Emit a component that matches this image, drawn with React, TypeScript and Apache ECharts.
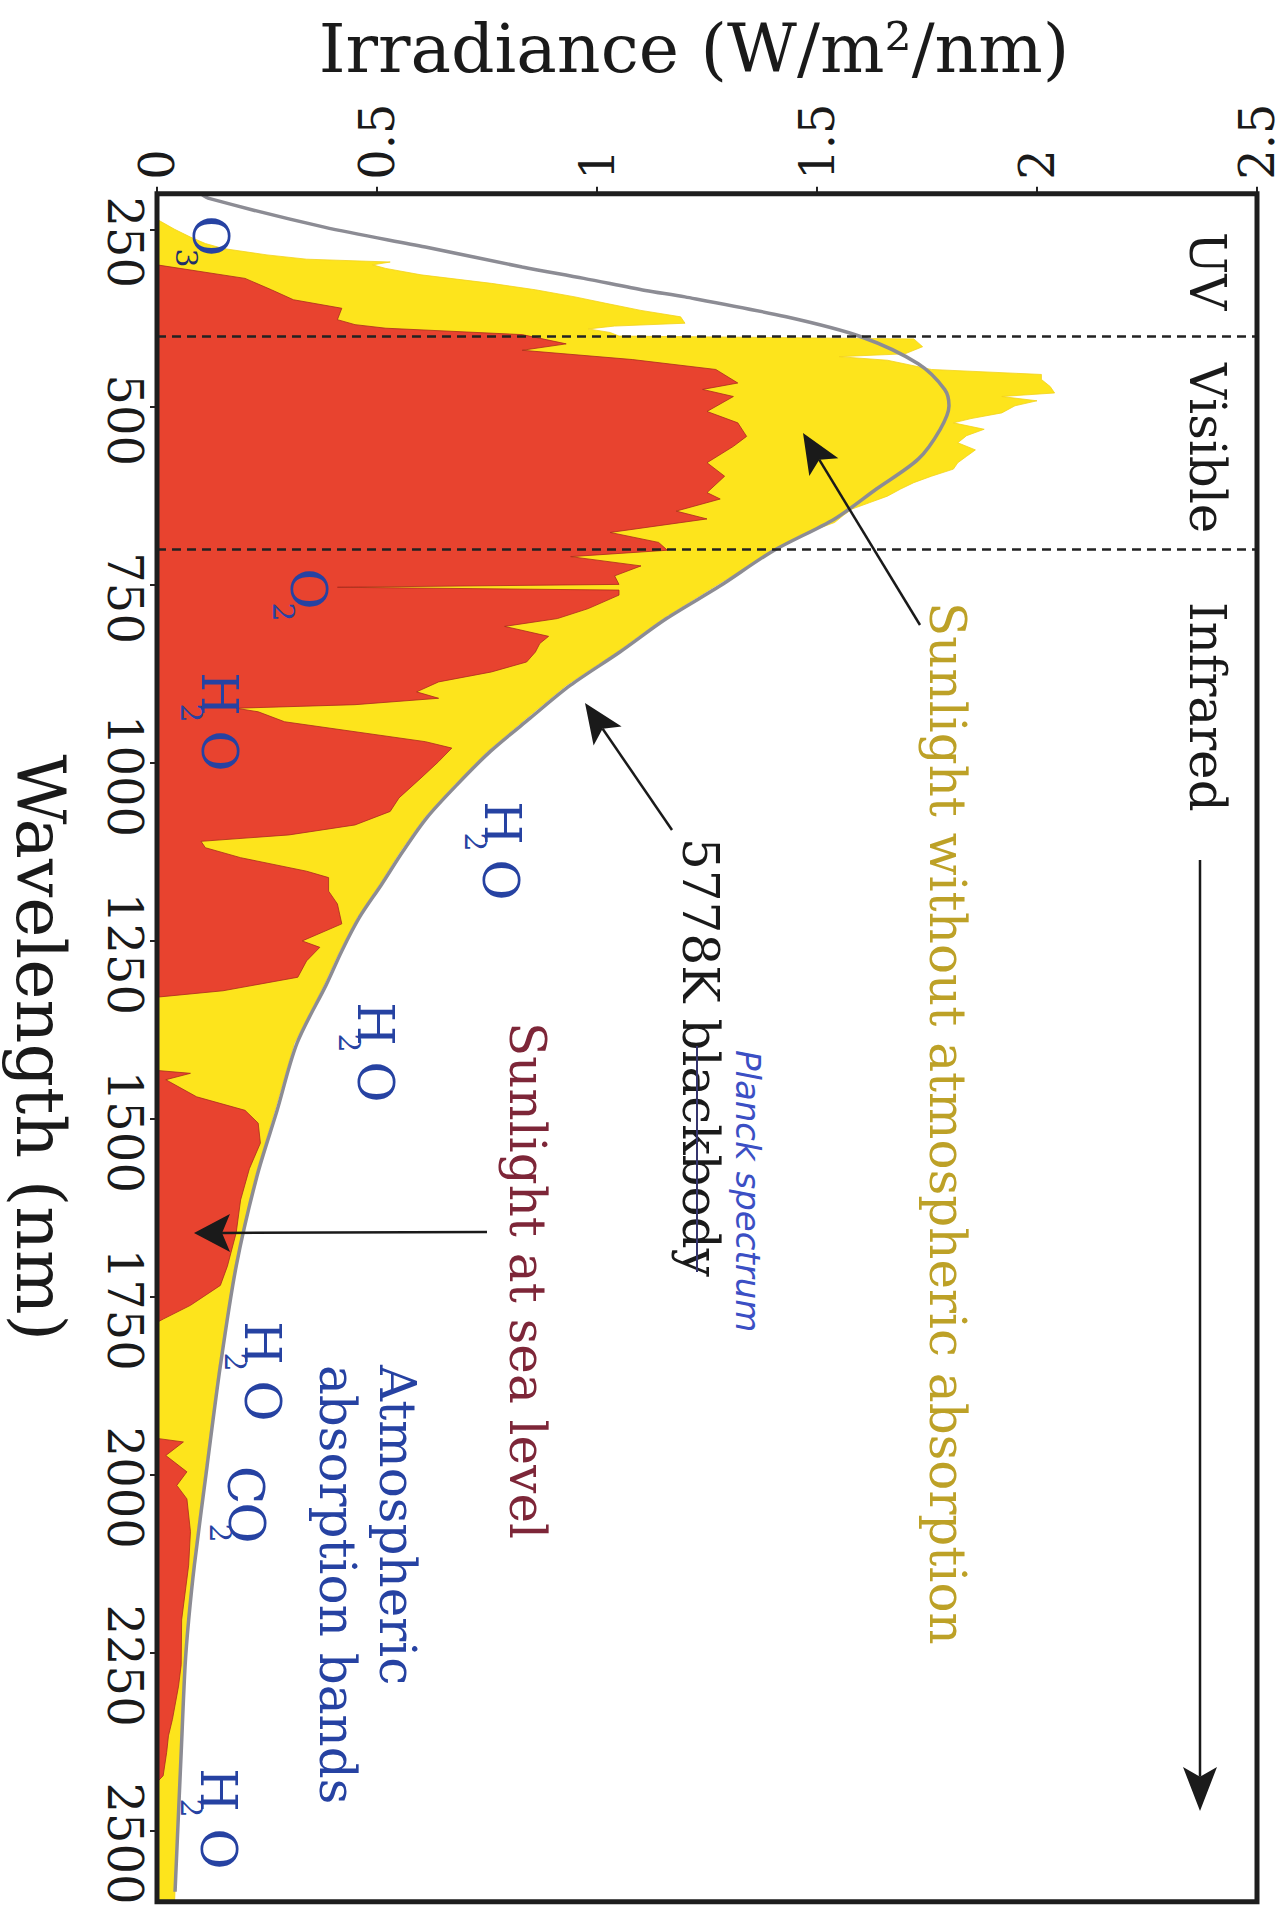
import React, { useEffect, useRef } from "react";
import * as echarts from "echarts";

// ---- Data ----
// [irradiance W/m²/nm, wavelength nm]
const spaceSpectrum: [number, number][] = [
  [0, 236], [0.04, 250], [0.076, 261], [0.11, 270], [0.15, 277], [0.25, 286], [0.34, 292], [0.53, 296],
  [0.49, 300], [0.52, 305], [0.6, 314], [0.68, 320], [0.76, 326], [0.86, 335], [0.95, 345], [1.02, 354],
  [1.1, 364], [1.19, 373], [1.2, 382], [1.04, 386], [0.98, 390], [1.03, 395], [1.05, 400], [1.72, 404],
  [1.74, 415], [1.7, 425], [1.55, 429], [1.66, 434], [1.76, 447], [2.01, 454], [2.01, 461], [2.03, 471],
  [2.04, 480], [1.92, 485], [2.0, 491], [1.95, 498], [1.92, 508], [1.85, 516], [1.81, 522], [1.88, 531],
  [1.84, 540], [1.82, 550], [1.86, 560], [1.84, 569], [1.82, 578], [1.81, 587], [1.76, 597], [1.72, 606],
  [1.69, 615], [1.66, 625], [1.62, 634], [1.58, 643], [1.56, 652], [1.54, 662], [1.5, 671], [1.46, 680],
  [1.44, 690], [1.40, 702], [1.27, 751], [1.15, 797], [1.045, 844], [0.93, 891], [0.84, 937],
  [0.75, 984], [0.675, 1031], [0.607, 1077], [0.553, 1124], [0.505, 1171], [0.455, 1217], [0.415, 1264],
  [0.38, 1311], [0.312, 1394], [0.268, 1488], [0.223, 1581], [0.177, 1707], [0.141, 1847], [0.111, 1987],
  [0.082, 2127], [0.07, 2204], [0.061, 2267], [0.053, 2390], [0.04, 2600],
];

const seaLevelSpectrum: [number, number][] = [
  [0, 300], [0.2, 319], [0.26, 335], [0.31, 349], [0.42, 361], [0.41, 377], [0.45, 384], [0.52, 389],
  [0.83, 398], [0.93, 411], [0.83, 420], [1.08, 433], [1.27, 447], [1.32, 466], [1.24, 475], [1.31, 485],
  [1.25, 506], [1.32, 522], [1.34, 541], [1.31, 555], [1.25, 578], [1.29, 597], [1.25, 620], [1.28, 629],
  [1.18, 646], [1.25, 657], [1.03, 676], [1.14, 690], [1.16, 701], [0.94, 710], [1.1, 723], [1.04, 737],
  [1.05, 749], [0.41, 753], [1.05, 757], [1.05, 764], [0.98, 783], [0.91, 797], [0.79, 808], [0.89, 822],
  [0.87, 832], [0.86, 844], [0.84, 858], [0.76, 872], [0.64, 886], [0.59, 900], [0.64, 909], [0.45, 918],
  [0.18, 923], [0.23, 928], [0.29, 942], [0.45, 956], [0.61, 970], [0.67, 979], [0.64, 998], [0.6, 1021],
  [0.55, 1049], [0.53, 1068], [0.45, 1087], [0.3, 1101], [0.1, 1110], [0.11, 1119], [0.19, 1133],
  [0.34, 1152], [0.39, 1161], [0.39, 1180], [0.41, 1198], [0.42, 1226], [0.33, 1250], [0.37, 1259],
  [0.34, 1278], [0.32, 1301], [0.15, 1320], [0, 1329], [0, 1432], [0.076, 1436], [0.02, 1445],
  [0.09, 1469], [0.2, 1488], [0.23, 1506], [0.235, 1534], [0.21, 1570], [0.19, 1614], [0.18, 1660],
  [0.16, 1707], [0.144, 1734], [0.076, 1762], [0.015, 1781], [0, 1786], [0, 1949], [0.06, 1954],
  [0.02, 1973], [0.068, 1996], [0.045, 2015], [0.068, 2034], [0.076, 2080], [0.072, 2127], [0.056, 2204],
  [0.055, 2267], [0.049, 2297], [0.035, 2344], [0.026, 2367], [0.022, 2390], [0.014, 2423], [0, 2432],
];

const blackbody: [number, number][] = [
  [0.1, 200], [0.12, 207], [0.38, 247], [0.61, 275], [0.83, 303], [0.97, 319], [1.11, 336], [1.2, 345],
  [1.43, 373], [1.6, 401], [1.73, 439], [1.79, 475], [1.8, 498], [1.78, 531], [1.73, 573], [1.635, 615],
  [1.54, 657], [1.4, 702], [1.28, 751], [1.158, 797], [1.052, 844], [0.939, 891], [0.848, 937],
  [0.757, 984], [0.681, 1031], [0.613, 1077], [0.559, 1124], [0.51, 1171], [0.46, 1217], [0.42, 1264],
  [0.385, 1311], [0.318, 1394], [0.273, 1488], [0.227, 1581], [0.18, 1707], [0.144, 1847], [0.114, 1987],
  [0.085, 2127], [0.072, 2204], [0.064, 2267], [0.055, 2390], [0.041, 2586],
];

const bandEdges = [400, 700];
const wavelengthTicks = [250, 500, 750, 1000, 1250, 1500, 1750, 2000, 2250, 2500];

const SERIF = '"DejaVu Serif", "Liberation Serif", serif';
const BLUE = "#2642a2";
const ROT = -Math.PI / 2;

function areaRenderer(fill: string, stroke: string) {
  return (params: any, api: any) => {
    if (params.dataIndexInside !== 0) return null;
    const n = params.dataInsideLength;
    const pts: number[][] = [];
    pts.push(api.coord([0, api.value(1, 0)]));
    for (let i = 0; i < n; i++) pts.push(api.coord([api.value(0, i), api.value(1, i)]));
    pts.push(api.coord([0, api.value(1, n - 1)]));
    return {
      type: "polygon",
      shape: { points: pts },
      style: { fill, stroke, lineWidth: 0.8 },
    };
  };
}

function vText(text: string, x: number, y: number, size: number, color: string, extra: any = {}) {
  return {
    type: "text",
    x,
    y,
    rotation: ROT,
    z: 100,
    style: {
      text,
      fill: color,
      fontSize: size,
      fontFamily: SERIF,
      align: "left",
      verticalAlign: "middle",
      textAlign: "left",
      textVerticalAlign: "middle",
      ...extra,
    },
  };
}

function cText(text: string, x: number, y: number, size: number, color: string) {
  return vText(text, x, y, size, color, {
    align: "center",
    textAlign: "center",
  });
}

function arrow(x1: number, y1: number, x2: number, y2: number, hl = 40, hw = 17) {
  const dx = x2 - x1;
  const dy = y2 - y1;
  const len = Math.hypot(dx, dy);
  const ux = dx / len;
  const uy = dy / len;
  const px = -uy;
  const py = ux;
  const bx = x2 - ux * hl;
  const by = y2 - uy * hl;
  const nx = x2 - ux * hl * 0.78;
  const ny = y2 - uy * hl * 0.78;
  return [
    {
      type: "line",
      z: 100,
      shape: { x1, y1, x2: nx, y2: ny },
      style: { stroke: "#1a1a1a", lineWidth: 2.5 },
    },
    {
      type: "polygon",
      z: 100,
      shape: {
        points: [
          [x2, y2],
          [bx + px * hw, by + py * hw],
          [nx, ny],
          [bx - px * hw, by - py * hw],
        ],
      },
      style: { fill: "#1a1a1a" },
    },
  ];
}

export default function App() {
  const ref = useRef<HTMLDivElement>(null);

  useEffect(() => {
    if (!ref.current) return;
    const chart = echarts.init(ref.current, null, { renderer: "svg" });

    const graphic: any[] = [
      // plot frame
      {
        type: "rect",
        z: 90,
        shape: { x: 157, y: 193.7, width: 1100, height: 1708 },
        style: { fill: "transparent", stroke: "#1e1e1e", lineWidth: 5 },
      },
      // region labels
      vText("UV", 1207, 232, 50, "#1a1a1a"),
      vText("Visible", 1207, 363, 50, "#1a1a1a"),
      vText("Infrared", 1207, 602, 50, "#1a1a1a"),
      ...arrow(1200, 860, 1200, 1811, 44, 17),
      // annotations
      vText("Sunlight without atmospheric absorption", 947, 602, 50, "#bda127"),
      ...arrow(920, 625, 803, 433),
      vText("5778K blackbody", 700, 838, 50, "#1a1a1a"),
      {
        type: "line",
        z: 101,
        shape: { x1: 697, y1: 1046, x2: 697, y2: 1272 },
        style: { stroke: "#34346e", lineWidth: 2 },
      },
      vText("Planck spectrum", 748, 1050, 34, "#3b4fc4", {
        fontFamily: '"DejaVu Sans", sans-serif',
        fontStyle: "italic",
        fontWeight: 200,
      }),
      ...arrow(672, 830, 585, 703),
      vText("Sunlight at sea level", 527, 1022, 50, "#7d2638"),
      ...arrow(487, 1232, 194, 1233, 36, 19),
      vText("Atmospheric", 397, 1365, 50, BLUE),
      vText("absorption bands", 337, 1365, 50, BLUE),
      // molecules
      cText("O", 210, 236, 50, BLUE),
      cText("3", 186, 258, 30, "#1f2f6a"),
      cText("O", 308, 589, 50, BLUE),
      cText("2", 283, 612, 30, BLUE),
      cText("H", 219, 694, 50, BLUE),
      cText("2", 191, 713, 30, BLUE),
      cText("O", 219, 751, 50, BLUE),
      cText("H", 502, 823, 50, BLUE),
      cText("2", 475, 842, 30, BLUE),
      cText("O", 500, 880, 50, BLUE),
      cText("H", 375, 1024, 50, BLUE),
      cText("2", 349, 1043, 30, BLUE),
      cText("O", 375, 1082, 50, BLUE),
      cText("H", 262, 1343, 50, BLUE),
      cText("2", 235, 1362, 30, BLUE),
      cText("O", 262, 1401, 50, BLUE),
      cText("C", 245, 1485, 50, BLUE),
      cText("O", 246, 1523, 50, BLUE),
      cText("2", 220, 1533, 30, BLUE),
      cText("H", 218, 1790, 50, BLUE),
      cText("2", 191, 1808, 30, BLUE),
      cText("O", 218, 1849, 50, BLUE),
    ];

    const option: any = {
      animation: false,
      backgroundColor: "#ffffff",
      grid: {
        left: 157,
        top: 193.7,
        width: 1100,
        height: 1708,
        show: false,
        outerBoundsMode: "none",
        containLabel: false,
      },
      xAxis: {
        type: "value",
        position: "top",
        min: 0,
        max: 2.5,
        interval: 0.5,
        name: "Irradiance (W/m²/nm)",
        nameLocation: "middle",
        nameGap: 111,
        nameTextStyle: {
          fontFamily: SERIF,
          fontSize: 68,
          color: "#1a1a1a",
          padding: [0, 26, 0, 0],
        },
        axisLine: { show: false },
        axisTick: { show: true, inside: false, length: 7, lineStyle: { color: "#222", width: 2 } },
        axisLabel: {
          rotate: -90,
          margin: 14,
          fontFamily: SERIF,
          fontSize: 48,
          color: "#1a1a1a",
          padding: [0, 0, 18, 0],
          formatter: (v: number) => String(v),
        },
        splitLine: { show: false },
      },
      yAxis: {
        type: "value",
        inverse: true,
        min: 200,
        max: 2600,
        name: "Wavelength (nm)",
        nameLocation: "middle",
        nameGap: 83,
        nameRotate: -90,
        nameTextStyle: { fontFamily: SERIF, fontSize: 68, color: "#1a1a1a" },
        axisLine: { show: false },
        axisTick: {
          show: true,
          inside: false,
          length: 7,
          customValues: wavelengthTicks,
          lineStyle: { color: "#222", width: 2 },
        },
        axisLabel: {
          rotate: -90,
          margin: 8,
          customValues: wavelengthTicks,
          fontFamily: SERIF,
          fontSize: 48,
          color: "#1a1a1a",
          padding: [0, 0, 0, 26],
          formatter: (v: number) => String(v),
        },
        splitLine: { show: false },
      },
      series: [
        {
          name: "Sunlight without atmospheric absorption",
          type: "custom",
          data: spaceSpectrum,
          renderItem: areaRenderer("#fde41c", "#f2d21a"),
          z: 1,
          silent: true,
        },
        {
          name: "Sunlight at sea level",
          type: "custom",
          data: seaLevelSpectrum,
          renderItem: areaRenderer("#e8432f", "#a92b1e"),
          z: 2,
          silent: true,
        },
        {
          name: "5778K blackbody",
          type: "line",
          data: blackbody,
          showSymbol: false,
          symbol: "none",
          smooth: 0.3,
          z: 3,
          silent: true,
          lineStyle: { color: "#8c8c94", width: 3.5 },
          markLine: {
            silent: true,
            symbol: ["none", "none"],
            label: { show: false },
            lineStyle: { type: [9, 6], color: "#222", width: 2.5 },
            data: bandEdges.map((v) => ({ yAxis: v })),
          },
        },
      ],
      graphic,
    };

    chart.setOption(option);
    return () => chart.dispose();
  }, []);

  return (
    <div
      ref={ref}
      style={{ position: "absolute", left: 0, top: 0, width: 1288, height: 1925, background: "#fff" }}
    />
  );
}
